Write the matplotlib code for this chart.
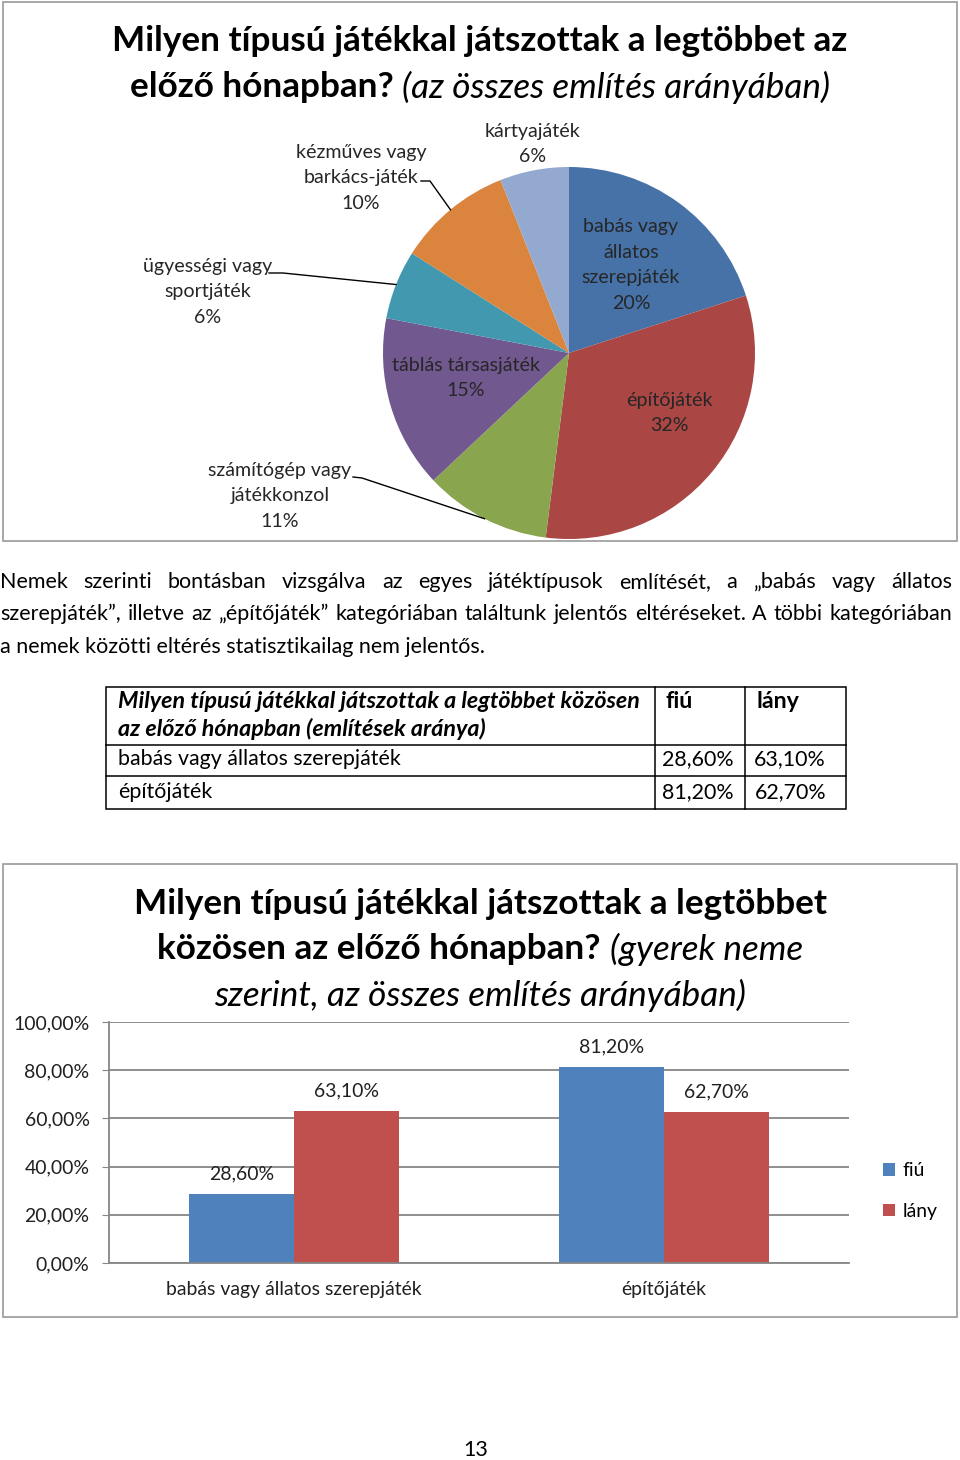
import matplotlib
matplotlib.use('Agg')
import matplotlib.pyplot as plt
from matplotlib.patches import Rectangle
import numpy as np

plt.rcParams['font.family'] = ['Lato', 'DejaVu Sans']

W, H = 960, 1460

# --- adatok ---
pie_labels = ['babás vagy\nállatos\nszerepjáték', 'építőjáték', 'számítógép vagy\njátékkonzol',
              'táblás társasjáték', 'ügyességi vagy\nsportjáték', 'kézműves vagy\nbarkács-játék',
              'kártyajáték']
pie_values = [20, 32, 11, 15, 6, 10, 6]
pie_colors = ['#4672A8', '#AA4744', '#89A54E', '#71588F', '#4198AF', '#DB843D', '#93A9CF']

bar_categories = ['babás vagy állatos szerepjáték', 'építőjáték']
series_names = ['fiú', 'lány']
fiu_values = [28.6, 81.2]
lany_values = [63.1, 62.7]
series_colors = ['#4F81BD', '#C0504D']
y_ticks = [0, 20, 40, 60, 80, 100]

para_lines = [
    'Nemek szerinti bontásban vizsgálva az egyes játéktípusok említését, a „babás vagy állatos',
    'szerepjáték”, illetve az „építőjáték” kategóriában találtunk jelentős eltéréseket. A többi kategóriában',
    'a nemek közötti eltérés statisztikailag nem jelentős.',
]
table_header = ['Milyen típusú játékkal játszottak a legtöbbet közösen',
                'az előző hónapban (említések aránya)']


def pct(v):
    return f'{v:.2f}'.replace('.', ',') + '%'


fig = plt.figure(figsize=(W / 100, H / 100), dpi=100)
renderer = fig.canvas.get_renderer()


def box(x0, y0, x1, y1):
    return [x0 / W, 1 - y1 / H, (x1 - x0) / W, (y1 - y0) / H]


def text_width(s, size, **kw):
    t = fig.text(0, 0, s, fontsize=size, **kw)
    w = t.get_window_extent(renderer).width
    t.remove()
    return w


def fit_size(s, width, **kw):
    return 10 * width / text_width(s, 10, **kw)


BOLD = dict(weight='bold')
ITAL = dict(style='italic')
title_size = fit_size('Milyen típusú játékkal játszottak a legtöbbet az', 736, **BOLD)
para_size = fit_size(para_lines[2], 484)
table_size = fit_size('babás vagy állatos szerepjáték', 282)
head_size = fit_size(table_header[0], 523, weight='bold', style='italic')
pie_size = fit_size('táblás társasjáték', 148)
bar_size = fit_size('babás vagy állatos szerepjáték', 256)

# oldal tengely: szövegek, keretek, táblázat (pixel koordináták)
ax_page = fig.add_axes([0, 0, 1, 1])
ax_page.set_xlim(0, W)
ax_page.set_ylim(H, 0)
ax_page.axis('off')
ax_page.set_zorder(5)


def rich_line(parts, xc, y, size):
    sp = text_width('a a', size) - text_width('aa', size)
    widths = [text_width(t, size, **kw) for t, kw in parts]
    x = xc - (sum(widths) + sp * (len(parts) - 1)) / 2
    for (t, kw), w in zip(parts, widths):
        ax_page.text(x, y, t, fontsize=size, ha='left', va='center', color='black', **kw)
        x += w + sp


def justify(line, x0, x1, y, size):
    words = line.split()
    widths = [text_width(w, size) for w in words]
    gap = (x1 - x0 - sum(widths)) / (len(words) - 1)
    x = x0
    for w, wd in zip(words, widths):
        ax_page.text(x, y, w, fontsize=size, ha='left', va='center', color='black')
        x += wd + gap


frame_col = '#9A9A9A'
ax_page.add_patch(Rectangle((3, 2), 954, 539, fill=False, ec=frame_col, lw=1.2))
ax_page.add_patch(Rectangle((3, 864), 954, 453, fill=False, ec=frame_col, lw=1.2))

# 1. kördiagram
rich_line([('Milyen típusú játékkal játszottak a legtöbbet az', BOLD)], 480, 41, title_size)
rich_line([('előző hónapban?', BOLD), ('(az összes említés arányában)', ITAL)], 480, 87, title_size)

cx, cy, r = 569, 353, 186
ax_pie = fig.add_axes(box(cx - r, cy - r, cx + r, cy + r))
wedges, _ = ax_pie.pie(pie_values, colors=pie_colors, startangle=90, counterclock=False,
                       wedgeprops=dict(linewidth=0))
for w in wedges:
    w.set_clip_on(False)
ax_pie.set_xlim(-1, 1)
ax_pie.set_ylim(-1, 1)
ax_pie.set_aspect('equal')

label_pos = [(631, 265), (669, 413), (280, 496), (466, 378), (208, 292), (361, 178), (533, 144)]
label_col = '#262626'
for lab, v, (px, py) in zip(pie_labels, pie_values, label_pos):
    lines = lab.split('\n') + [f'{v}%']
    n = len(lines)
    for j, ln in enumerate(lines):
        ax_page.text(px, py + (j - (n - 1) / 2) * 25.7, ln, ha='center', va='center',
                     fontsize=pie_size, color=label_col)

# vezető vonalak a külső címkékhez
leaders = {2: [(353, 477), (362, 478)], 4: [(269, 273), (283, 273)], 5: [(421, 181), (430, 181)]}
for i, pts in leaders.items():
    w = wedges[i]
    ang = np.deg2rad((w.theta1 + w.theta2) / 2)
    disp = ax_pie.transData.transform((np.cos(ang), np.sin(ang)))
    ex, ey = ax_page.transData.inverted().transform(disp)
    xs = [p[0] for p in pts] + [ex]
    ys = [p[1] for p in pts] + [ey]
    ax_page.plot(xs, ys, color='black', lw=1)

# bekezdés
para_y = [582, 614, 647]
justify(para_lines[0], 0, 952, para_y[0], para_size)
justify(para_lines[1], 0, 952, para_y[1], para_size)
ax_page.text(0, para_y[2], para_lines[2], fontsize=para_size, ha='left', va='center', color='black')

# táblázat
tx0, tx1, c1, c2 = 106, 846, 655, 745
ty0, ty1, r1, r2 = 687, 809, 745, 776
ax_page.add_patch(Rectangle((tx0, ty0), tx1 - tx0, ty1 - ty0, fill=False, ec='black', lw=1.1))
for xx in (c1, c2):
    ax_page.plot([xx, xx], [ty0, ty1], color='black', lw=1.1)
for yy in (r1, r2):
    ax_page.plot([tx0, tx1], [yy, yy], color='black', lw=1.1)
for j, ln in enumerate(table_header):
    ax_page.text(118, 701 + j * 28, ln, fontsize=head_size, ha='left', va='center',
                 weight='bold', style='italic')
ax_page.text(666, 701, series_names[0], fontsize=head_size, ha='left', va='center', weight='bold')
ax_page.text(757, 701, series_names[1], fontsize=head_size, ha='left', va='center', weight='bold')
for yy, cat, f, l in zip([759, 792], bar_categories, fiu_values, lany_values):
    ax_page.text(118, yy, cat, fontsize=table_size, ha='left', va='center')
    ax_page.text(734, yy, pct(f), fontsize=table_size, ha='right', va='center')
    ax_page.text(826, yy, pct(l), fontsize=table_size, ha='right', va='center')

# 2. oszlopdiagram
rich_line([('Milyen típusú játékkal játszottak a legtöbbet', BOLD)], 480, 904, title_size)
rich_line([('közösen az előző hónapban?', BOLD), ('(gyerek neme', ITAL)], 480, 949, title_size)
rich_line([('szerint, az összes említés arányában)', ITAL)], 480, 995, title_size)

ax_bar = fig.add_axes(box(109, 1022, 849, 1263))
ax_bar.set_facecolor('none')
x = np.arange(len(bar_categories))
bw = 0.285
bars = []
for k, (vals, name, col) in enumerate(zip([fiu_values, lany_values], series_names, series_colors)):
    b = ax_bar.bar(x + (k - 0.5) * bw, vals, bw, color=col, label=name, zorder=2)
    bars.append(b)
    for rect, v in zip(b, vals):
        ax_bar.annotate(pct(v), (rect.get_x() + rect.get_width() / 2, v), xytext=(0, 20),
                        textcoords='offset pixels', ha='center', va='center',
                        fontsize=bar_size, color='#202020')
ax_bar.set_xlim(-0.5, len(bar_categories) - 0.5)
ax_bar.set_ylim(0, 100)
ax_bar.set_yticks(y_ticks)
ax_bar.set_yticklabels([pct(t) for t in y_ticks], fontsize=bar_size, color='#202020')
ax_bar.set_xticks(x)
ax_bar.set_xticklabels(bar_categories, fontsize=bar_size, color='#202020')
ax_bar.yaxis.grid(True, color='#868686', lw=1.3)
ax_bar.set_axisbelow(True)
for s in ('top', 'right'):
    ax_bar.spines[s].set_visible(False)
for s in ('left', 'bottom'):
    ax_bar.spines[s].set_color('#868686')
    ax_bar.spines[s].set_linewidth(1.3)
ax_bar.tick_params(axis='y', length=5, color='#868686', pad=9)
ax_bar.tick_params(axis='x', length=0, pad=13)

fig.legend(handles=bars, labels=series_names, loc='center left',
           bbox_to_anchor=(883 / W, 1 - 1191 / H), frameon=False, fontsize=bar_size,
           handlelength=0.6, handleheight=0.6, handletextpad=0.4, labelspacing=1.2,
           borderpad=0, borderaxespad=0)

# oldalszám
ax_page.text(476, 1450, '13', fontsize=para_size, ha='center', va='center', color='black')

fig.savefig('out.png', dpi=100)
